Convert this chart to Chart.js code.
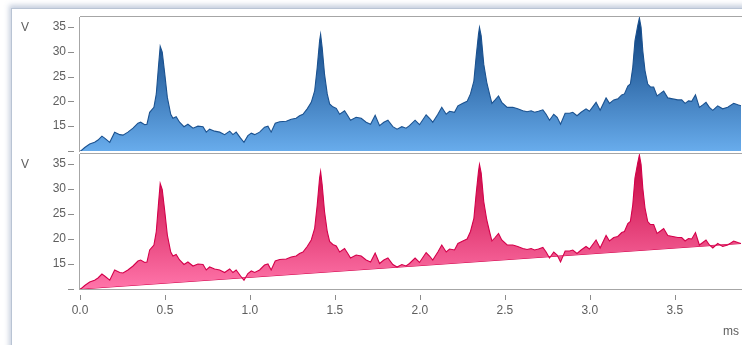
<!DOCTYPE html>
<html><head><meta charset="utf-8">
<script src="https://cdn.jsdelivr.net/npm/chart.js@4.4.1/dist/chart.umd.min.js"></script>
<style>
html,body{margin:0;padding:0;background:#fff;width:742px;height:345px;overflow:hidden;position:relative;font-family:"Liberation Sans",Arial,sans-serif;}
#frame{position:absolute;left:11px;top:8px;width:760px;height:360px;background:#fff;border-left:1px solid #b9c4d4;border-top:1px solid #b9c4d4;box-shadow:-2px -3px 5px rgba(130,150,185,0.45);}
canvas{position:absolute;left:0;}
#c1{top:0}
#c2{top:153px}
.lbl{position:absolute;font-size:12px;color:#5e5e5e;line-height:14px;}
</style></head>
<body>
<div id="frame"></div>
<canvas id="c1" width="742" height="153"></canvas>
<canvas id="c2" width="742" height="192"></canvas>
<div class="lbl" style="left:21px;top:20px">V</div>
<div class="lbl" style="left:21px;top:157px">V</div>
<div class="lbl" style="left:723px;top:324px">ms</div>
<script>
const timeMs = [0,0.008,0.028,0.057,0.086,0.106,0.129,0.145,0.175,0.204,0.234,0.253,0.282,0.312,0.341,0.357,0.381,0.394,0.410,0.435,0.449,0.463,0.472,0.484,0.498,0.514,0.534,0.547,0.566,0.586,0.612,0.635,0.665,0.694,0.724,0.743,0.763,0.792,0.822,0.851,0.881,0.900,0.919,0.945,0.965,0.988,1.008,1.028,1.057,1.086,1.106,1.125,1.149,1.175,1.214,1.243,1.272,1.292,1.312,1.337,1.361,1.381,1.396,1.410,1.416,1.425,1.439,1.455,1.469,1.488,1.508,1.528,1.557,1.576,1.592,1.625,1.655,1.684,1.710,1.737,1.763,1.788,1.812,1.841,1.866,1.894,1.919,1.939,1.972,1.998,2.037,2.057,2.076,2.106,2.129,2.155,2.175,2.204,2.224,2.253,2.278,2.298,2.318,2.331,2.345,2.351,2.361,2.376,2.394,2.410,2.424,2.443,2.463,2.482,2.514,2.547,2.576,2.606,2.631,2.655,2.675,2.698,2.724,2.743,2.763,2.788,2.808,2.828,2.855,2.881,2.900,2.925,2.949,2.978,2.998,3.037,3.061,3.096,3.116,3.141,3.165,3.188,3.204,3.224,3.239,3.253,3.266,3.282,3.292,3.302,3.312,3.325,3.341,3.357,3.376,3.396,3.416,3.435,3.459,3.488,3.518,3.541,3.561,3.581,3.600,3.622,3.645,3.665,3.684,3.704,3.724,3.753,3.782,3.812,3.847,3.871,3.890];
const voltage = [10,10.1,10.7,11.4,11.75,12.2,13.0,12.6,11.75,13.8,13.3,13.2,13.8,14.6,15.6,15.8,15.3,15.4,17.8,18.8,21.5,27.5,31.1,29.9,25.8,20.8,17.4,16.6,16.9,15.8,14.9,15.4,14.6,15.0,14.9,13.8,14.4,14.0,13.8,13.3,14.0,13.3,13.8,12.6,11.75,13.1,13.6,13.3,13.8,14.8,15.0,13.8,15.6,15.9,16.0,16.4,16.6,17.1,17.4,18.5,19.8,22.1,26.8,32.2,33.5,30.9,25.5,21.5,19.5,18.9,18.6,17.4,18.1,17.1,16.2,16.8,16.6,15.8,15.4,17.2,15.1,15.8,16.2,14.9,14.4,14.9,14.6,15.1,16.2,15.3,17.3,16.6,15.8,17.4,18.8,17.4,18.0,17.8,19.1,19.6,20.0,21.5,24.1,28.9,33.5,34.9,33.2,27.5,23.8,21.5,19.6,20.3,21.1,19.8,18.8,18.8,18.5,18.1,17.9,18.1,17.8,18.0,18.3,17.4,16.2,17.4,16.8,15.4,17.6,17.6,17.8,17.1,17.8,18.5,18.0,19.8,18.2,20.7,19.6,20.3,20.5,21.3,21.5,23.1,23.5,26.8,32.2,35.2,36.8,34.9,30.2,26.2,23.5,22.9,22.9,21.1,21.6,22.1,20.7,20.5,20.3,20.3,19.6,20.1,20.0,21.3,18.8,19.3,19.8,18.8,18.2,19.1,18.5,18.8,19.6,19.3,19.1];
const baselineTime = [0, 3.89];
const baselineVoltage = [10, 19.1];
const yTickValues = [10, 15, 20, 25, 30, 35];
const xTickValues = [0, 0.5, 1, 1.5, 2, 2.5, 3, 3.5];

const signalPoints = timeMs.map((t, i) => ({x: t, y: voltage[i]}));
const baselinePoints = baselineTime.map((t, i) => ({x: t, y: baselineVoltage[i]}));

const FONT = {family: '"Liberation Sans", Arial, sans-serif', size: 12};
const TXT = '#5e5e5e';
const AXIS = '#a6a6a6';

function grad(top, bottom) {
  return (c) => {
    const {ctx, chartArea} = c.chart;
    if (!chartArea) return top;
    const g = ctx.createLinearGradient(0, chartArea.top, 0, chartArea.bottom);
    g.addColorStop(0, top);
    g.addColorStop(1, bottom);
    return g;
  };
}

const decor = {
  id: 'decor',
  afterDraw(chart, args, opts) {
    const ctx = chart.ctx, a = chart.chartArea;
    ctx.save();
    ctx.lineWidth = 1;
    ctx.strokeStyle = '#8c8c8c';
    ctx.beginPath();
    const ys = chart.scales.y;
    yTickValues.forEach(v => {
      const py = Math.round(ys.getPixelForValue(v)) + 0.5;
      ctx.moveTo(a.left - 12, py); ctx.lineTo(a.left - 6, py);
    });
    if (opts.xTicks) {
      const xs = chart.scales.x;
      xTickValues.forEach(v => {
        const px = Math.round(xs.getPixelForValue(v)) + 0.5;
        ctx.moveTo(px, a.bottom + 6); ctx.lineTo(px, a.bottom + 11);
      });
    }
    ctx.stroke();
    ctx.strokeStyle = AXIS;
    ctx.beginPath();
    ctx.moveTo(a.left - 0.5, a.top); ctx.lineTo(a.left - 0.5, a.bottom + 1);
    ctx.moveTo(a.left, a.top - 0.5); ctx.lineTo(a.right + 1, a.top - 0.5);
    if (opts.bottomLine) { ctx.moveTo(a.left, a.bottom + 0.5); ctx.lineTo(a.right + 1, a.bottom + 0.5); }
    ctx.stroke();
    ctx.restore();
  }
};

function yScale() {
  return {
    type: 'linear', min: 10, max: 37,
    afterBuildTicks: s => { s.ticks = yTickValues.map(v => ({value: v})); },
    afterFit: s => { s.width = 80; s.paddingTop = 0; s.paddingBottom = 0; },
    grid: {display: true, drawOnChartArea: false, drawTicks: false},
    border: {display: false},
    ticks: {padding: 14, font: FONT, color: TXT, callback: v => (v === 10 ? '' : String(v))}
  };
}

const common = {
  responsive: false, animation: false, devicePixelRatio: 1,
  plugins: {legend: {display: false}, tooltip: {enabled: false}},
  elements: {point: {radius: 0}, line: {tension: 0}}
};

new Chart(document.getElementById('c1'), {
  type: 'line',
  data: {datasets: [{
    data: signalPoints, borderColor: '#1b5290', borderWidth: 1.1,
    backgroundColor: grad('#083b78', '#68acec'), fill: 'start'
  }]},
  options: Object.assign({}, common, {
    layout: {padding: {top: 17, bottom: 2, right: 1, left: 0}},
    plugins: Object.assign({}, common.plugins, {decor: {xTicks: false, bottomLine: false}}),
    scales: {
      x: {type: 'linear', min: 0, max: 3.89, display: false,
          afterFit: s => { s.paddingLeft = 0; s.paddingRight = 0; }},
      y: yScale()
    }
  }),
  plugins: [decor]
});

new Chart(document.getElementById('c2'), {
  type: 'line',
  data: {datasets: [
    {data: signalPoints, borderColor: '#d4004b', borderWidth: 1.1,
     backgroundColor: grad('#c4003c', '#ff75aa'), fill: '+1'},
    {data: baselinePoints, borderColor: '#d4004b', borderWidth: 1.1, fill: false}
  ]},
  options: Object.assign({}, common, {
    layout: {padding: {top: 1, bottom: 0, right: 1, left: 0}},
    plugins: Object.assign({}, common.plugins, {decor: {xTicks: true, bottomLine: true}}),
    scales: {
      x: {type: 'linear', min: 0, max: 3.89, position: 'bottom',
          afterBuildTicks: s => { s.ticks = xTickValues.map(v => ({value: v})); },
          afterFit: s => { s.height = 56; s.paddingLeft = 0; s.paddingRight = 0; },
          grid: {display: true, drawOnChartArea: false, drawTicks: false},
          border: {display: false},
          ticks: {padding: 14, font: FONT, color: TXT, maxRotation: 0, autoSkip: false,
                  callback: v => Number(v).toFixed(1)}},
      y: yScale()
    }
  }),
  plugins: [decor]
});
</script>
</body></html>
